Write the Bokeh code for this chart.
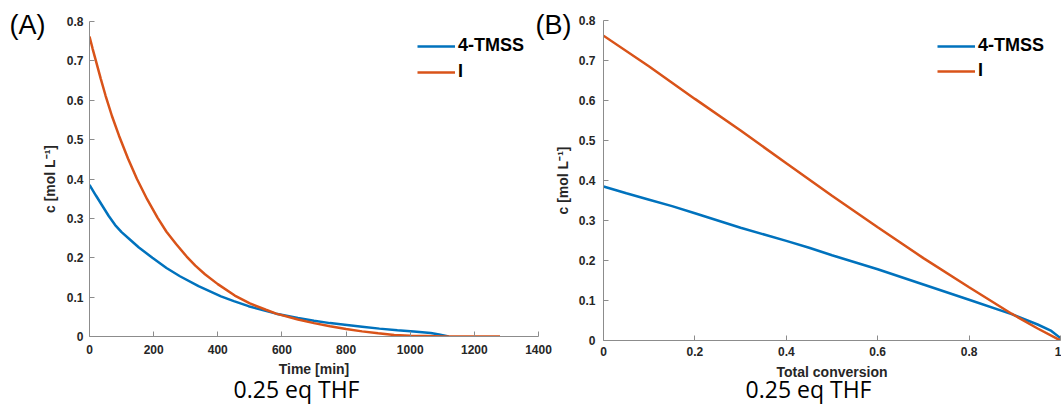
from bokeh.plotting import figure
from bokeh.layouts import row, column
from bokeh.models import Legend, LegendItem, Label, Range1d, FixedTicker
from bokeh.embed import file_html
from bokeh.resources import INLINE

# ---------------- data ----------------
series_names = ["4-TMSS", "I"]
caption = "0.25 eq THF"
panel_tags = ["(A)", "(B)"]

# Panel A : concentration vs time
time_tmss_a = [0, 20, 40, 60, 80, 100, 125, 154, 196, 240, 282, 340, 410, 450, 496, 540, 582,
               650, 700, 750, 796, 850, 904, 960, 1011, 1064, 1090, 1120]
c_tmss_a = [0.385, 0.358, 0.332, 0.306, 0.283, 0.265, 0.247, 0.226, 0.200, 0.174, 0.153,
            0.128, 0.102, 0.090, 0.077, 0.067, 0.058, 0.047, 0.040, 0.034, 0.030, 0.025, 0.020, 0.016, 0.013,
            0.009, 0.005, 0.0]
time_i_a = [0, 10, 20, 35, 50, 70, 92, 120, 148, 180, 212, 240, 270, 303, 330, 360, 400, 453, 500, 550, 582,
            650, 700, 750, 800, 850, 900, 950, 1000, 1050, 1100, 1280]
c_i_a = [0.762, 0.730, 0.700, 0.655, 0.612, 0.560, 0.510, 0.452, 0.400, 0.348, 0.302, 0.266, 0.235, 0.203,
         0.180, 0.158, 0.133, 0.104, 0.084, 0.068, 0.058, 0.043, 0.034, 0.026, 0.019, 0.013, 0.008, 0.004,
         0.002, 0.001, 0.0, 0.0]

# Panel B : concentration vs total conversion
conv_tmss_b = [0, 0.05, 0.1, 0.15, 0.2, 0.3, 0.4, 0.45, 0.5, 0.6, 0.7, 0.8, 0.893, 0.95, 0.98, 1.0]
c_tmss_b = [0.385, 0.368, 0.352, 0.336, 0.318, 0.282, 0.249, 0.232, 0.213, 0.178, 0.140, 0.102, 0.066, 0.040,
            0.024, 0.006]
conv_i_b = [0, 0.1, 0.2, 0.3, 0.4, 0.5, 0.6, 0.7, 0.8, 0.893, 0.95, 1.0]
c_i_b = [0.762, 0.685, 0.604, 0.525, 0.443, 0.362, 0.283, 0.206, 0.133, 0.067, 0.030, 0.0]

y_ticks = [0, 0.1, 0.2, 0.3, 0.4, 0.5, 0.6, 0.7, 0.8]
y_tick_labels = ["0", "0.1", "0.2", "0.3", "0.4", "0.5", "0.6", "0.7", "0.8"]
xa_ticks = [0, 200, 400, 600, 800, 1000, 1200, 1400]
xa_tick_labels = ["0", "200", "400", "600", "800", "1000", "1200", "1400"]
xb_ticks = [0, 0.2, 0.4, 0.6, 0.8, 1]
xb_tick_labels = ["0", "0.2", "0.4", "0.6", "0.8", "1"]

y_label = "c [mol L\u207b\u00b9]"
xa_label = "Time [min]"
xb_label = "Total conversion"

# ---------------- style ----------------
BLUE = "#0072BD"
ORANGE = "#D95319"
AXC = "#8c8c8c"
TXT = "#262626"
FONT = "Liberation Sans"
W, H = 1061, 405


def style_axes(p, xt, xl, yt, yl, xlab, ylab, x_std, x_lab_std, y_std, y_lab_std):
    p.xaxis.ticker = FixedTicker(ticks=xt)
    p.yaxis.ticker = FixedTicker(ticks=yt)
    p.xaxis.major_label_overrides = dict(zip(xt, xl))
    p.yaxis.major_label_overrides = dict(zip(yt, yl))
    p.xaxis.axis_label = xlab
    p.yaxis.axis_label = ylab
    for ax in (p.xaxis[0], p.yaxis[0]):
        ax.axis_line_color = AXC
        ax.axis_line_width = 1
        ax.major_tick_line_color = AXC
        ax.major_tick_in = 5
        ax.major_tick_out = 0
        ax.minor_tick_line_color = None
        ax.major_label_text_font = FONT
        ax.major_label_text_font_style = "bold"
        ax.major_label_text_font_size = "12px"
        ax.major_label_text_color = TXT
        ax.axis_label_text_font = FONT
        ax.axis_label_text_font_style = "bold"
        ax.axis_label_text_font_size = "14px"
        ax.axis_label_text_color = TXT
    p.xaxis.major_label_standoff = x_std
    p.xaxis.axis_label_standoff = x_lab_std
    p.yaxis.major_label_standoff = y_std
    p.yaxis.axis_label_standoff = y_lab_std
    p.xgrid.visible = False
    p.ygrid.visible = False
    p.outline_line_color = None


def add_legend(p, rb, ro, loc, spacing):
    leg = Legend(items=[LegendItem(label=series_names[0], renderers=[rb]),
                        LegendItem(label=series_names[1], renderers=[ro])],
                 location=loc, padding=0, margin=0, spacing=spacing,
                 glyph_width=38, glyph_height=20, label_height=20, label_standoff=3,
                 border_line_color=None, background_fill_alpha=0,
                 label_text_font=FONT, label_text_font_style="bold",
                 label_text_font_size="18px", label_text_color="black")
    p.add_layout(leg)


# ---------------- panel A ----------------
pA = figure(width=560, height=H, output_backend="svg", toolbar_location=None,
            x_range=Range1d(0, 1400), y_range=Range1d(0, 0.8),
            min_border_left=89, min_border_right=22, min_border_top=21, min_border_bottom=69,
            border_fill_color=None, background_fill_color=None)
rbA = pA.line(time_tmss_a, c_tmss_a, line_color=BLUE, line_width=2.5)
roA = pA.line(time_i_a, c_i_a, line_color=ORANGE, line_width=2.5)
style_axes(pA, xa_ticks, xa_tick_labels, y_ticks, y_tick_labels, xa_label, y_label, 8, 4, 6, 6)
add_legend(pA, rbA, roA, (328, 254), 5)

# ---------------- panel B ----------------
pB = figure(width=536, height=H, output_backend="svg", toolbar_location=None,
            x_range=Range1d(0, 1), y_range=Range1d(0, 0.8),
            min_border_left=78, min_border_right=1, min_border_top=20, min_border_bottom=65,
            border_fill_color=None, background_fill_color=None)
rbB = pB.line(conv_tmss_b, c_tmss_b, line_color=BLUE, line_width=2.5)
roB = pB.line(conv_i_b, c_i_b, line_color=ORANGE, line_width=2.5)
style_axes(pB, xb_ticks, xb_tick_labels, y_ticks, y_tick_labels, xb_label, y_label, 6, 5, 8, 5)
add_legend(pB, rbB, roB, (334, 259), 4)
colB = column(pB, margin=(0, 0, 0, -35))

# ---------------- transparent overlay for free texts ----------------
ov = figure(width=W, height=H, output_backend="svg", toolbar_location=None,
            x_range=Range1d(0, W), y_range=Range1d(0, H),
            x_axis_location=None, y_axis_location=None,
            min_border=0, min_border_left=0, min_border_right=0, min_border_top=0, min_border_bottom=0,
            border_fill_color=None, background_fill_color=None, outline_line_color=None)
ov.xgrid.visible = False
ov.ygrid.visible = False
for tag, tx in zip(panel_tags, [9, 535]):
    ov.add_layout(Label(x=tx, y=H - 24, x_units="screen", y_units="screen", text=tag,
                        text_font=FONT, text_font_size="27px", text_color="black",
                        text_baseline="alphabetic", text_align="left"))
for cx in [296, 808]:
    ov.add_layout(Label(x=cx, y=H - 388, x_units="screen", y_units="screen", text=caption,
                        text_font="Open Sans", text_font_size="23px", text_color="black",
                        text_baseline="alphabetic", text_align="center"))
ov.margin = (-H, 0, 0, 0)

p = column(row(pA, colB), ov)
open("out.html", "w").write(file_html(p, INLINE))
